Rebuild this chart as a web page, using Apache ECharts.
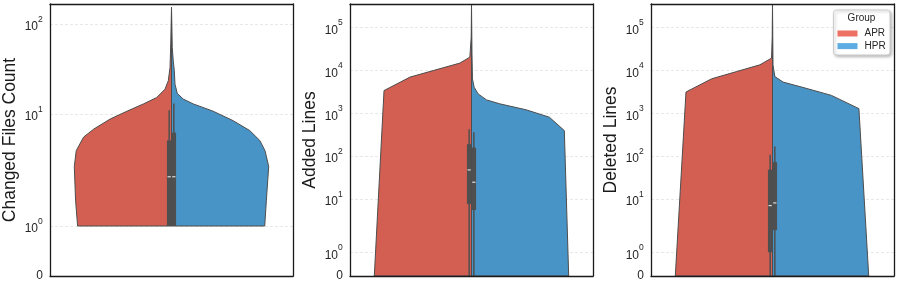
<!DOCTYPE html>
<html>
<head>
<meta charset="utf-8">
<script src="https://cdn.jsdelivr.net/npm/echarts@6/dist/echarts.min.js"></script>
<style>html,body{margin:0;padding:0;background:#fff;}#chart{width:897px;height:285px;}</style>
</head>
<body>
<div id="chart"></div>
<script>
// ---------------- data ----------------
const panelNames = ['Changed Files Count', 'Added Lines', 'Deleted Lines'];
const groups = ['APR', 'HPR'];

// violin half outlines: values and relative half-widths (density)
const files_APR_vals = [1, 1.7, 3.4, 4.7, 6.2, 7.3, 9.0, 10.7, 12.9, 15.2, 18.8, 23.3, 32.8, 59.6, 152];
const files_APR_dens = [0.966, 0.987, 1.0, 0.98, 0.905, 0.802, 0.631, 0.459, 0.289, 0.152, 0.067, 0.033, 0.015, 0.008, 0];
const files_HPR_vals = [1, 1.7, 3.4, 4.7, 5.8, 7.1, 8.7, 10.7, 12.9, 14.6, 16.9, 21.4, 30.1, 38.9, 54.7, 152];
const files_HPR_dens = [0.959, 0.976, 1.0, 0.962, 0.908, 0.805, 0.634, 0.429, 0.224, 0.121, 0.059, 0.036, 0.029, 0.018, 0.008, 0];

const added_APR_vals = [0, 3380, 6970, 9900, 14800, 20400, 60000, 360000];
const added_APR_dens = [1.0, 0.9, 0.633, 0.394, 0.12, 0.017, 0.003, 0];
const added_HPR_vals = [0, 393, 809, 1200, 1660, 2050, 2830, 4060, 6340, 24300, 360000];
const added_HPR_dens = [1.0, 0.955, 0.801, 0.563, 0.29, 0.154, 0.068, 0.027, 0.01, 0.005, 0];

const deleted_APR_vals = [0, 3130, 6370, 9400, 13500, 19300, 60000, 360000];
const deleted_APR_dens = [1.0, 0.89, 0.626, 0.369, 0.13, 0.01, 0.003, 0];
const deleted_HPR_vals = [0, 1280, 2610, 4000, 5330, 7190, 13500, 360000];
const deleted_HPR_dens = [0.99, 0.889, 0.606, 0.314, 0.109, 0.024, 0.005, 0];

// inner box stats: [lower whisker, q1, median, q3, upper whisker]
const files_APR_box = [1, 1, 2.75, 5.8, 11];
const files_HPR_box = [1, 1, 2.75, 6.8, 13];
const added_APR_box = [0, 8, 47.5, 189, 425];
const added_HPR_box = [0, 6.2, 24.5, 158, 361];
const deleted_APR_box = [0, 1, 7.5, 48, 107];
const deleted_HPR_box = [0, 2.6, 8.4, 72, 167];

// tick values per panel and axis upper limits
const files_ticks = [0, 1, 10, 100];
const lines_ticks = [0, 1, 10, 100, 1000, 10000, 100000];
const yMaxValues = [166, 355000, 355000];

// ---------------- scale (symlog-like) ----------------
const A = 0.555, B = 1.245;
function T(v) {
  if (v <= 1) return A * v;
  if (v <= 10) return A + B * Math.log10(v);
  return A + B + Math.log10(v) - 1;
}

const FONT = 'Liberation Sans, Arial, Helvetica, sans-serif';
const FILL = {APR: '#d25f52', HPR: '#4994c6'};
const LEG = {APR: '#ec7063', HPR: '#5dade2'};
const EDGE = '#4d4d4d';
const BOXC = '#4f4f4f';
const FRAME = {show: true, onZero: false, lineStyle: {color: '#1a1a1a', width: 1.3}};

const panels = [
  {ticks: files_ticks, violins: {APR: [files_APR_vals, files_APR_dens], HPR: [files_HPR_vals, files_HPR_dens]}, boxes: {APR: files_APR_box, HPR: files_HPR_box}},
  {ticks: lines_ticks, violins: {APR: [added_APR_vals, added_APR_dens], HPR: [added_HPR_vals, added_HPR_dens]}, boxes: {APR: added_APR_box, HPR: added_HPR_box}},
  {ticks: lines_ticks, violins: {APR: [deleted_APR_vals, deleted_APR_dens], HPR: [deleted_HPR_vals, deleted_HPR_dens]}, boxes: {APR: deleted_APR_box, HPR: deleted_HPR_box}}
];

const gridLefts = [50, 350, 651];
const grids = [], xAxes = [], yAxes = [], series = [];

panels.forEach((p, i) => {
  grids.push({left: gridLefts[i], top: 4, width: 243, height: 272, show: false});
  xAxes.push({gridIndex: i, type: 'value', min: -1.25, max: 1.25, position: 'bottom', axisLine: FRAME,
    axisTick: {show: false}, axisLabel: {show: false}, splitLine: {show: false}, z: 10});
  xAxes.push({gridIndex: i, type: 'value', min: -1.25, max: 1.25, position: 'top', axisLine: FRAME,
    axisTick: {show: false}, axisLabel: {show: false}, splitLine: {show: false}, z: 10});
  const tv = p.ticks.map(T);
  const tvGrid = p.ticks.filter(t => t > 0).map(T);
  yAxes.push({
    gridIndex: i, type: 'value', min: 0, max: T(yMaxValues[i]), position: 'left',
    axisLine: FRAME,
    axisTick: {show: false, customValues: tvGrid},
    axisLabel: {
      customValues: tv, margin: 7, color: '#262626', fontFamily: FONT, fontSize: 12,
      formatter: function (val) {
        let idx = 0, best = 1e9;
        tv.forEach((t, k) => { const d = Math.abs(t - val); if (d < best) { best = d; idx = k; } });
        const t = p.ticks[idx];
        if (t === 0) return '0';
        return '{b|10}{s|' + Math.round(Math.log10(t)) + '}{h| }';
      },
      rich: {
        b: {fontSize: 12, lineHeight: 12, verticalAlign: 'bottom', fontFamily: FONT, color: '#262626'},
        s: {fontSize: 8.5, lineHeight: 9, verticalAlign: 'top', fontFamily: FONT, color: '#262626'},
        h: {fontSize: 1, lineHeight: 18}
      }
    },
    splitLine: {show: true, lineStyle: {color: '#e2e2e2', type: [3, 2], width: 0.8}},
    name: panelNames[i], nameLocation: 'middle', nameGap: 31, nameRotate: 90,
    nameTextStyle: {fontSize: 17.5, color: '#1a1a1a', fontFamily: FONT}, z: 0
  });
  yAxes.push({
    gridIndex: i, type: 'value', min: 0, max: T(yMaxValues[i]), position: 'right', axisLine: FRAME,
    axisTick: {show: false}, axisLabel: {show: false}, splitLine: {show: false}, z: 10
  });

  const xi = 2 * i, yi = 2 * i;
  groups.forEach((g, gi) => {
    const side = gi === 0 ? -1 : 1;
    const vals = p.violins[g][0], dens = p.violins[g][1];
    const poly = [[0, T(vals[0])]];
    vals.forEach((v, k) => poly.push([side * dens[k], T(v)]));
    poly.push([0, T(vals[vals.length - 1])]);
    series.push({
      type: 'custom', name: g, xAxisIndex: xi, yAxisIndex: yi, clip: true, silent: true, z: 2,
      itemStyle: {color: LEG[g]},
      data: [0],
      renderItem: function (params, api) {
        return {type: 'polygon', shape: {points: poly.map(pt => api.coord(pt))},
          style: {fill: FILL[g], stroke: EDGE, lineWidth: 1, lineJoin: 'round'}};
      }
    });
  });

  groups.forEach((g, gi) => {
    const b = p.boxes[g];
    const x0 = gi === 0 ? -0.047 : 0.001, x1 = gi === 0 ? -0.001 : 0.047;
    series.push({
      type: 'custom', name: g + '_box', xAxisIndex: xi, yAxisIndex: yi, clip: true, silent: true, z: 5,
      data: [0],
      renderItem: function (params, api) {
        const xm = (x0 + x1) / 2;
        const lo = api.coord([xm, T(b[0])]), hi = api.coord([xm, T(b[4])]);
        const q1 = api.coord([x0, T(b[1])]), q3 = api.coord([x1, T(b[3])]);
        const m0 = api.coord([x0, T(b[2])]), m1 = api.coord([x1, T(b[2])]);
        return {type: 'group', children: [
          {type: 'line', shape: {x1: lo[0], y1: lo[1], x2: hi[0], y2: hi[1]}, style: {stroke: BOXC, lineWidth: 1.5}},
          {type: 'rect', shape: {x: q1[0], y: q3[1], width: q3[0] - q1[0], height: q1[1] - q3[1]}, style: {fill: BOXC}},
          {type: 'line', shape: {x1: m0[0] + 0.6, y1: m0[1], x2: m1[0] - 0.6, y2: m1[1]}, style: {stroke: '#dcdcdc', lineWidth: 1.2}}
        ]};
      }
    });
  });
});

const chart = echarts.init(document.getElementById('chart'), null, {renderer: 'canvas'});
chart.setOption({
  animation: false,
  backgroundColor: '#fff',
  grid: grids, xAxis: xAxes, yAxis: yAxes, series: series,
  legend: {
    data: groups.map(g => ({name: g, icon: 'rect', itemStyle: {color: LEG[g]}})),
    orient: 'vertical', left: 837.5, top: 28.5, padding: 0, itemWidth: 20, itemHeight: 6, itemGap: 2.6,
    textStyle: {fontSize: 10, color: '#262626', fontFamily: FONT, padding: [0, 0, 0, 2]},
    selectedMode: false, z: 20
  },
  graphic: [
    {type: 'rect', z: 15, shape: {x: 833.5, y: 10, width: 56.5, height: 45, r: 3},
      style: {fill: '#fff', stroke: '#cccccc', lineWidth: 1, shadowBlur: 3, shadowOffsetX: 1.5, shadowOffsetY: 1.5, shadowColor: 'rgba(0,0,0,0.25)'}},
    {type: 'text', z: 20, style: {text: 'Group', x: 861.5, y: 18, textAlign: 'center', textVerticalAlign: 'middle',
      fontSize: 10, fontFamily: FONT, fill: '#262626'}}
  ]
});
</script>
</body>
</html>
